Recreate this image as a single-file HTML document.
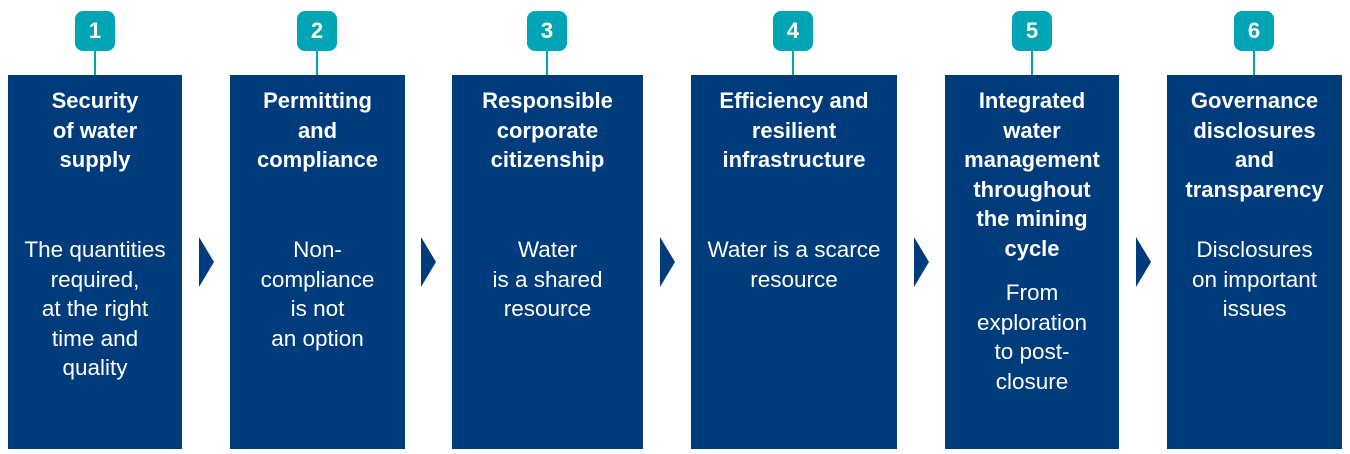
<!DOCTYPE html>
<html><head><meta charset="utf-8"><style>
body{margin:0;width:1350px;height:454px;background:#fff;position:relative;overflow:hidden;font-family:"Liberation Sans",sans-serif}
.box{position:absolute;top:75px;height:374px;background:#003c7b}
.t{position:absolute;top:86px;font-weight:bold;font-size:22px;line-height:29.5px;color:#fff;text-align:center;white-space:nowrap}
.b{position:absolute;font-size:22.5px;line-height:29.5px;color:#fff;text-align:center;white-space:nowrap}
.badge{position:absolute;top:11px;width:40px;height:40px;border-radius:8px;background:#00a5b5;color:#fff;font-weight:bold;font-size:22px;line-height:40px;text-align:center}
.stem{position:absolute;top:51px;height:24px;width:2px;background:#00a5b5}
.arr{position:absolute;top:237px;width:0;height:0;border-top:25px solid transparent;border-bottom:25px solid transparent;border-left:15px solid #003c7b}
</style></head><body>
<div class="box" style="left:8px;width:174px"></div>
<div class="box" style="left:230px;width:175px"></div>
<div class="box" style="left:452px;width:191px"></div>
<div class="box" style="left:691px;width:206px"></div>
<div class="box" style="left:945px;width:174px"></div>
<div class="box" style="left:1167px;width:175px"></div>

<div class="t" style="left:8px;width:174px">Security<br>of water<br>supply</div>
<div class="b" style="left:8px;width:174px;top:235px">The quantities<br>required,<br>at the right<br>time and<br>quality</div>

<div class="t" style="left:230px;width:175px">Permitting<br>and<br>compliance</div>
<div class="b" style="left:230px;width:175px;top:235px">Non-<br>compliance<br>is not<br>an option</div>

<div class="t" style="left:452px;width:191px">Responsible<br>corporate<br>citizenship</div>
<div class="b" style="left:452px;width:191px;top:235px">Water<br>is a shared<br>resource</div>

<div class="t" style="left:691px;width:206px">Efficiency and<br>resilient<br>infrastructure</div>
<div class="b" style="left:691px;width:206px;top:235px">Water is a scarce<br>resource</div>

<div class="t" style="left:945px;width:174px">Integrated<br>water<br>management<br>throughout<br>the mining<br>cycle</div>
<div class="b" style="left:945px;width:174px;top:278px">From<br>exploration<br>to post-<br>closure</div>

<div class="t" style="left:1167px;width:175px">Governance<br>disclosures<br>and<br>transparency</div>
<div class="b" style="left:1167px;width:175px;top:235px">Disclosures<br>on important<br>issues</div>

<div class="badge" style="left:75px">1</div><div class="stem" style="left:94px"></div>
<div class="badge" style="left:297px">2</div><div class="stem" style="left:316px"></div>
<div class="badge" style="left:527px">3</div><div class="stem" style="left:546px"></div>
<div class="badge" style="left:773px">4</div><div class="stem" style="left:792px"></div>
<div class="badge" style="left:1012px">5</div><div class="stem" style="left:1031px"></div>
<div class="badge" style="left:1234px">6</div><div class="stem" style="left:1253px"></div>

<div class="arr" style="left:199px"></div>
<div class="arr" style="left:421px"></div>
<div class="arr" style="left:660px"></div>
<div class="arr" style="left:914px"></div>
<div class="arr" style="left:1136px"></div>
</body></html>
